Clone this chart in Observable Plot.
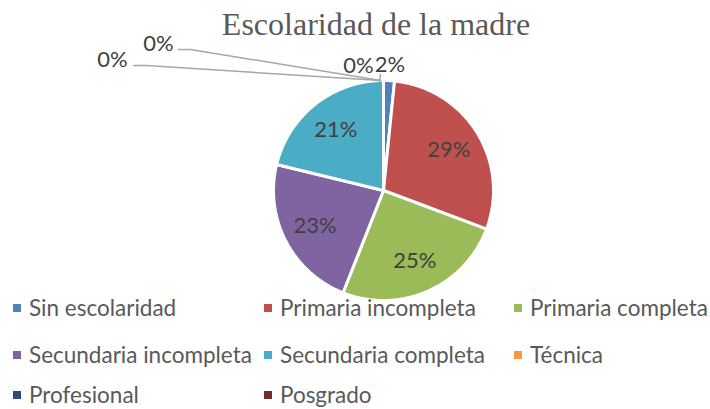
<!DOCTYPE html>
<html><head><meta charset="utf-8">
<script src="https://cdn.jsdelivr.net/npm/d3@7"></script>
<script src="https://cdn.jsdelivr.net/npm/@observablehq/plot@0.6"></script>
<style>
body{margin:0;background:#fff;}
#wrap{position:relative;width:710px;height:409px;overflow:hidden;font-family:Lato,sans-serif;}
#chart{position:absolute;left:0;top:0;}
#title{position:absolute;left:0;width:752px;top:8px;line-height:32px;text-align:center;font-family:"Liberation Serif","Times New Roman",serif;font-size:32px;color:#595959;white-space:nowrap;}
.item{position:absolute;height:24px;line-height:1;display:flex;align-items:center;font-size:22.5px;color:#595959;white-space:nowrap;}
.sw{width:8px;height:8px;margin-right:8px;flex:none;}
</style></head>
<body><div id="wrap"><div id="chart"></div><div id="title">Escolaridad de la madre</div><div id="legend"></div></div>
<script>
// ---- data ----
const categories = ["Sin escolaridad","Primaria incompleta","Primaria completa","Secundaria incompleta","Secundaria completa","Técnica","Profesional","Posgrado"];
const values = [1.6, 29.1, 25.3, 22.8, 21.2, 0, 0, 0];
const colors = ["#4F81BD","#C0504D","#9BBB59","#8064A2","#4BACC6","#F79646","#2C4D75","#772C2A"];

// ---- layout ----
const W = 710, H = 300, cx = 383, cy = 190, r = 110;
const legendCols = [13, 264, 514];
const legendRows = [308, 355, 395];
// manually placed labels for the zero slices (pixel positions) with leader bends
const zeroLabelLayout = [
  {x: 358, y: 65, path: [[380, 74], [379, 81]]},
  {x: 158, y: 43, path: [[178, 49], [190, 49], [380, 80]]},
  {x: 112, y: 59, path: [[133, 65], [146, 65], [380, 80]]}
];
const ux = px => (px - cx) / r, uy = py => (cy - py) / r;

const data = categories.map((c, i) => ({cat: c, value: values[i], color: colors[i]}));
const arcs = d3.pie().sort(null).value(d => d.value).startAngle(0).endAngle(2 * Math.PI)(data);

// slice polygons
const poly = [];
for (const a of arcs) {
  if (a.endAngle - a.startAngle <= 0) continue;
  poly.push({cat: a.data.cat, x: 0, y: 0});
  const n = Math.max(2, Math.ceil((a.endAngle - a.startAngle) / 0.01));
  for (let k = 0; k <= n; k++) {
    const t = a.startAngle + (a.endAngle - a.startAngle) * k / n;
    poly.push({cat: a.data.cat, x: Math.sin(t), y: Math.cos(t)});
  }
  poly.push({cat: a.data.cat, x: 0, y: 0});
}

// labels
const lbl = [];
const leaders = [];
let zi = 0;
for (const a of arcs) {
  const txt = Math.round(a.data.value) + "%";
  const m = (a.startAngle + a.endAngle) / 2;
  if (a.data.value === 0) {
    const L = zeroLabelLayout[zi++];
    lbl.push({x: ux(L.x), y: uy(L.y), t: txt});
    L.path.forEach(p => leaders.push({k: zi, x: ux(p[0]), y: uy(p[1])}));
  } else if (a.data.value < 5) {
    lbl.push({x: 1.16 * Math.sin(m), y: 1.14 * Math.cos(m), t: txt});
  } else {
    lbl.push({x: 0.7 * Math.sin(m), y: 0.7 * Math.cos(m), t: txt});
  }
}

const chart = Plot.plot({
  width: W, height: H, margin: 0,
  x: {domain: [-1, 1], range: [cx - r, cx + r], axis: null},
  y: {domain: [-1, 1], range: [cy + r, cy - r], axis: null},
  color: {domain: categories, range: colors},
  style: {background: "transparent", overflow: "visible"},
  marks: [
    Plot.line(poly, {x: "x", y: "y", z: "cat", fill: "cat", stroke: "white", strokeWidth: 3, strokeLinejoin: "round", curve: "linear"}),
    Plot.line(leaders, {x: "x", y: "y", z: "k", stroke: "#A6A6A6", strokeWidth: 1.5}),
    Plot.text(lbl, {x: "x", y: "y", text: "t", fontSize: 22, fontFamily: "Lato, sans-serif", fill: "#404040"})
  ]
});
document.getElementById("chart").appendChild(chart);

// legend (3 columns)
const leg = document.getElementById("legend");
categories.forEach((c, i) => {
  const d = document.createElement("div");
  d.className = "item";
  d.style.left = legendCols[i % 3] + "px";
  d.style.top = (legendRows[Math.floor(i / 3)] - 12) + "px";
  const s = document.createElement("span");
  s.className = "sw"; s.style.background = colors[i];
  d.appendChild(s);
  d.appendChild(document.createTextNode(c));
  leg.appendChild(d);
});
</script>
</body></html>
